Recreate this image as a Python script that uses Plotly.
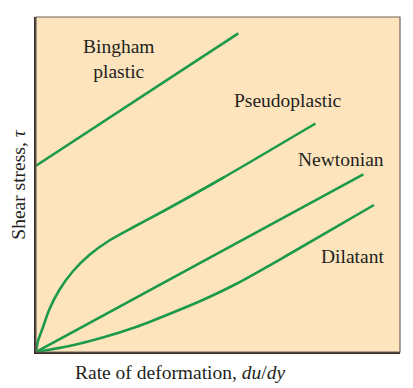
import plotly.graph_objects as go

# Data (arbitrary units)
bingham_x = [0, 202.3]
bingham_y = [186.3, 318.7]
pseudo_x = [0, 2, 6.7, 13.3, 23.3, 36.7, 53.3, 73.3, 96.7, 126.7, 186.7, 279.5]
pseudo_y = [0, 11, 24, 42.5, 62, 80.5, 97, 111.5, 124.5, 140.5, 174, 228.5]
newton_x = [0, 327.3]
newton_y = [0, 177.7]
dilat_x = [0, 33.3, 66.7, 100, 133.3, 166.7, 200, 250, 338]
dilat_y = [0, 6, 14.5, 25, 38, 52, 68, 96, 147]

labels = ["Bingham<br>plastic", "Pseudoplastic", "Newtonian", "Dilatant"]
label_x = [83, 251.5, 305, 316]
label_y = [293, 252, 193, 96]

GREEN = "#1b9a4a"
BG = "#fde4bd"
INK = "#231f20"
FONT = "Liberation Serif"

fig = go.Figure()
for xs, ys in [(bingham_x, bingham_y), (pseudo_x, pseudo_y), (newton_x, newton_y), (dilat_x, dilat_y)]:
    fig.add_trace(go.Scatter(x=xs, y=ys, mode="lines",
                             line=dict(color=GREEN, width=2.6, shape="spline", smoothing=0.7),
                             hoverinfo="skip", showlegend=False))

for t, x, y in zip(labels, label_x, label_y):
    fig.add_annotation(x=x, y=y, text=t, showarrow=False, xref="x", yref="y",
                       font=dict(family=FONT, size=19.5, color=INK), align="center")

fig.add_annotation(x=0.69, y=-0.06, xref="paper", yref="paper",
                   text="Rate of deformation, <i>du</i>/<i>dy</i>",
                   showarrow=False, font=dict(family=FONT, size=19.5, color=INK), yanchor="middle")
fig.add_annotation(x=-0.049, y=0.5, xref="paper", yref="paper", text="Shear stress, <i>τ</i>",
                   textangle=-90, showarrow=False, font=dict(family=FONT, size=19.5, color=INK),
                   xanchor="center", yanchor="middle")

fig.add_shape(type="rect", xref="paper", yref="paper", x0=0, y0=0, x1=1, y1=1,
              line=dict(color="#6d625a", width=1.2))

fig.update_xaxes(range=[0, 364], showgrid=False, zeroline=False, showticklabels=False, ticks="",
                 showline=True, linecolor="#3a2e28", linewidth=2)
fig.update_yaxes(range=[0, 335], showgrid=False, zeroline=False, showticklabels=False, ticks="",
                 showline=True, linecolor="#3a2e28", linewidth=2)

# page body has an 8px margin, so the figure is offset by (8, 8)
fig.update_layout(width=405, height=380, margin=dict(l=28, r=13, t=9, b=36),
                  paper_bgcolor="white", plot_bgcolor=BG)

fig.write_html("out.html")
